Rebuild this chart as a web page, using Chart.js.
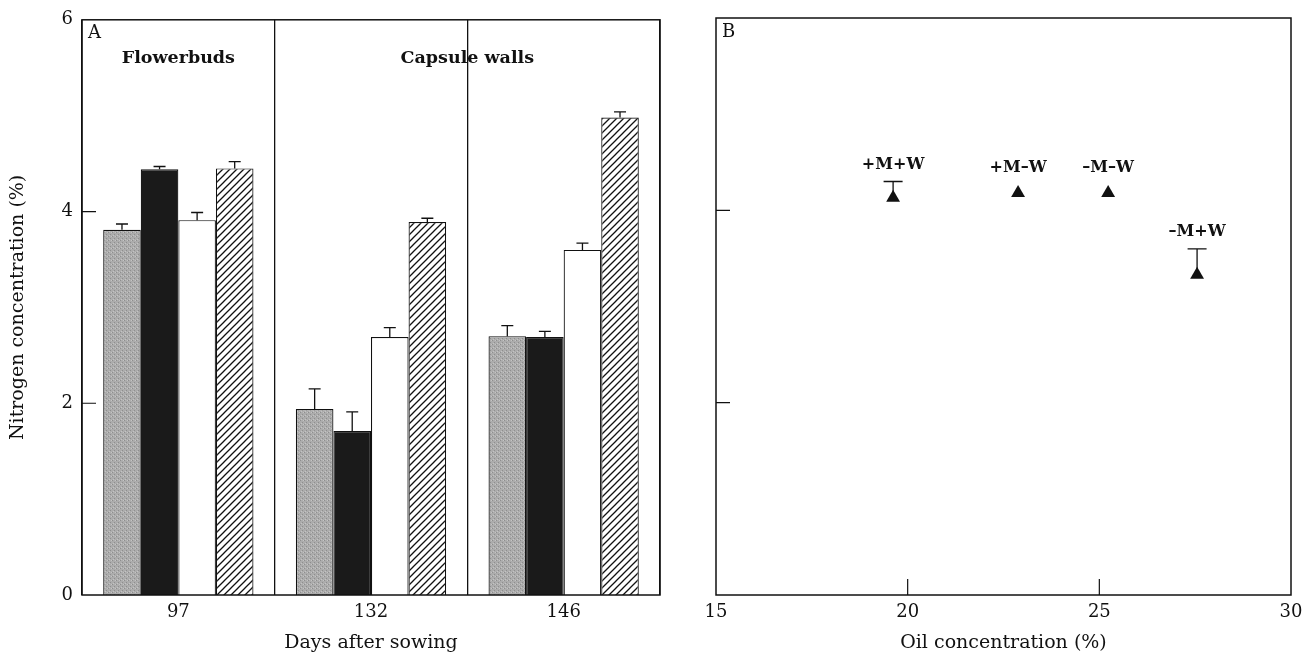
<!DOCTYPE html>
<html>
<head>
<meta charset="utf-8">
<script src="https://cdn.jsdelivr.net/npm/chart.js@4.4.1/dist/chart.umd.min.js"></script>
<style>
    html, body { margin: 0; padding: 0; background: #fff; }
    #wrapA { position: absolute; left: 0; top: 0; width: 680px; height: 655px; }
    #wrapB { position: absolute; left: 680px; top: 0; width: 624px; height: 655px; }
</style>
</head>
<body>
<div id="wrapA"><canvas id="chartA" width="680" height="655"></canvas></div>
<div id="wrapB"><canvas id="chartB" width="624" height="655"></canvas></div>
<script>
// --- panel A: nitrogen in flowerbuds / capsule walls
const days = ['97', '132', '146'];
const grayVals  = [3.81, 1.94, 2.70];
const blackVals = [4.44, 1.71, 2.69];
const whiteVals = [3.91, 2.69, 3.60];
const hatchVals = [4.45, 3.89, 4.98];
const grayErr  = [0.06, 0.21, 0.11];
const blackErr = [0.03, 0.20, 0.06];
const whiteErr = [0.08, 0.10, 0.07];
const hatchErr = [0.07, 0.04, 0.06];
const nTicks = [0, 2, 4, 6];

// --- panel B: nitrogen vs oil
const treatLabels = ['+M+W', '+M–W', '–M–W', '–M+W'];
const oilVals = [19.62, 22.88, 25.23, 27.55];
const nitroVals = [4.13, 4.18, 4.18, 3.33];
const nitroErr = [0.17, 0, 0, 0.27];
const oilTicks = [15, 20, 25, 30];

Chart.defaults.font.family = "'DejaVu Serif', 'Liberation Serif', serif";
Chart.defaults.color = '#111';

const INK = '#111';

function hatchPattern() {
    const c = document.createElement('canvas');
    c.width = 7; c.height = 7;
    const g = c.getContext('2d');
    g.fillStyle = '#fff';
    g.fillRect(0, 0, 7, 7);
    g.strokeStyle = INK;
    g.lineWidth = 1.3;
    g.beginPath();
    g.moveTo(0, 7); g.lineTo(7, 0);
    g.moveTo(-1, 1); g.lineTo(1, -1);
    g.moveTo(6, 8); g.lineTo(8, 6);
    g.stroke();
    return g.createPattern(c, 'repeat');
}

function stipplePattern() {
    const c = document.createElement('canvas');
    c.width = 4; c.height = 4;
    const g = c.getContext('2d');
    g.fillStyle = '#acacac';
    g.fillRect(0, 0, 4, 4);
    g.fillStyle = '#8e8e8e';
    g.fillRect(0, 0, 1, 1);
    g.fillRect(2, 2, 1, 1);
    g.fillStyle = '#c4c4c4';
    g.fillRect(3, 0, 1, 1);
    g.fillRect(1, 3, 1, 1);
    return g.createPattern(c, 'repeat');
}

// frame round the plot area + short inward tick marks
const frame = {
    id: 'frame',
    afterDraw(chart, args, opts) {
        const { ctx, chartArea: a, scales } = chart;
        ctx.save();
        ctx.strokeStyle = INK;
        ctx.lineWidth = 1.5;
        ctx.strokeRect(a.left, a.top, a.right - a.left, a.bottom - a.top);
        ctx.lineWidth = 1.2;
        ctx.beginPath();
        (opts.yTicks || []).forEach(v => {
            const y = scales.y.getPixelForValue(v);
            ctx.moveTo(a.left, y); ctx.lineTo(a.left + 14, y);
        });
        (opts.xTicks || []).forEach(v => {
            const x = scales.x.getPixelForValue(v);
            ctx.moveTo(x, a.bottom); ctx.lineTo(x, a.bottom - 16);
        });
        ctx.stroke();
        ctx.restore();
    }
};

// one-sided (upward) error bars
const errorBars = {
    id: 'errorBars',
    afterDatasetsDraw(chart, args, opts) {
        const { ctx, scales } = chart;
        ctx.save();
        ctx.strokeStyle = INK;
        ctx.lineWidth = 1.3;
        chart.data.datasets.forEach((ds, i) => {
            if (!ds.errors) return;
            const meta = chart.getDatasetMeta(i);
            meta.data.forEach((el, j) => {
                const err = ds.errors[j];
                if (!err) return;
                const v = typeof ds.data[j] === 'object' ? ds.data[j].y : ds.data[j];
                const yTop = scales.y.getPixelForValue(v + err);
                const half = opts.cap / 2;
                ctx.beginPath();
                ctx.moveTo(el.x, el.y);
                ctx.lineTo(el.x, yTop);
                ctx.moveTo(el.x - half, yTop);
                ctx.lineTo(el.x + half, yTop);
                ctx.stroke();
            });
        });
        ctx.restore();
    }
};

const labelsA = {
    id: 'labelsA',
    afterDraw(chart) {
        const { ctx, chartArea: a, scales } = chart;
        ctx.save();
        ctx.fillStyle = INK;
        ctx.textBaseline = 'middle';
        ctx.font = "18px 'DejaVu Serif'";
        ctx.textAlign = 'left';
        ctx.fillText('A', a.left + 6, a.top + 14);
        ctx.font = "bold 17.5px 'DejaVu Serif'";
        ctx.textAlign = 'center';
        const y = scales.y.getPixelForValue(5.6);
        ctx.fillText('Flowerbuds', scales.x.getPixelForValue(0), y);
        const xm = (scales.x.getPixelForValue(1) + scales.x.getPixelForValue(2)) / 2;
        ctx.fillText('Capsule walls', xm, y);
        ctx.restore();
    }
};

const labelsB = {
    id: 'labelsB',
    afterDraw(chart) {
        const { ctx, chartArea: a, scales } = chart;
        ctx.save();
        ctx.fillStyle = INK;
        ctx.textBaseline = 'middle';
        ctx.font = "18px 'DejaVu Serif'";
        ctx.textAlign = 'left';
        ctx.fillText('B', a.left + 6, a.top + 14);
        ctx.font = "bold 16px 'DejaVu Serif'";
        ctx.textAlign = 'center';
        const meta = chart.getDatasetMeta(0);
        meta.data.forEach((el, j) => {
            const top = Math.min(scales.y.getPixelForValue(nitroVals[j] + nitroErr[j]), el.y - 8);
            ctx.fillText(treatLabels[j], el.x, top - 17);
        });
        ctx.restore();
    }
};

const tickFont = { size: 18 };
const titleFont = { size: 19 };

new Chart(document.getElementById('chartA'), {
    type: 'bar',
    data: {
        labels: days,
        datasets: [
            { label: 'grey', data: grayVals, errors: grayErr, backgroundColor: stipplePattern() },
            { label: 'black', data: blackVals, errors: blackErr, backgroundColor: '#1a1a1a' },
            { label: 'white', data: whiteVals, errors: whiteErr, backgroundColor: '#fff' },
            { label: 'hatched', data: hatchVals, errors: hatchErr, backgroundColor: hatchPattern() }
        ].map(d => Object.assign(d, {
            borderColor: INK,
            borderWidth: 1.2,
            categoryPercentage: 0.78,
            barPercentage: 1.0
        }))
    },
    options: {
        responsive: false,
        devicePixelRatio: 1,
        animation: false,
        layout: { padding: { top: 18, right: 20, left: 0, bottom: 0 } },
        plugins: {
            legend: { display: false },
            tooltip: { enabled: false },
            frame: { yTicks: [2, 4] },
            errorBars: { cap: 12 }
        },
        scales: {
            x: {
                offset: true,
                grid: { offset: true, color: INK, lineWidth: 1.3, drawTicks: false },
                border: { display: false },
                ticks: { font: tickFont, padding: 7 },
                title: { display: true, text: 'Days after sowing', font: titleFont, padding: { top: 0, bottom: 1 } },
                afterFit(scale) { scale.height = 60; }
            },
            y: {
                min: 0,
                max: 6,
                grid: { display: false, drawTicks: false },
                border: { display: false },
                afterBuildTicks(scale) { scale.ticks = nTicks.map(v => ({ value: v })); },
                ticks: { font: tickFont, padding: 9 },
                title: { display: true, text: 'Nitrogen concentration (%)', font: titleFont, padding: { top: 7, bottom: 0 } },
                afterFit(scale) { scale.width = 82; }
            }
        }
    },
    plugins: [errorBars, frame, labelsA]
});

new Chart(document.getElementById('chartB'), {
    type: 'scatter',
    data: {
        datasets: [{
            label: 'treatments',
            data: oilVals.map((x, i) => ({ x: x, y: nitroVals[i] })),
            errors: nitroErr,
            pointStyle: 'triangle',
            pointRadius: 8,
            backgroundColor: INK,
            borderColor: INK,
            borderWidth: 0
        }]
    },
    options: {
        responsive: false,
        devicePixelRatio: 1,
        animation: false,
        layout: { padding: { top: 18, right: 13, left: 0, bottom: 0 } },
        plugins: {
            legend: { display: false },
            tooltip: { enabled: false },
            frame: { yTicks: [2, 4], xTicks: [20, 25] },
            errorBars: { cap: 19 }
        },
        scales: {
            x: {
                type: 'linear',
                min: 15,
                max: 30,
                grid: { display: false, drawTicks: false },
                border: { display: false },
                afterBuildTicks(scale) { scale.ticks = oilTicks.map(v => ({ value: v })); },
                ticks: { font: tickFont, padding: 7 },
                title: { display: true, text: 'Oil concentration (%)', font: titleFont, padding: { top: 0, bottom: 1 } },
                afterFit(scale) {
                    scale.height = 60;
                    scale.paddingLeft = 0;
                    scale.paddingRight = 0;
                }
            },
            y: {
                min: 0,
                max: 6,
                grid: { display: false, drawTicks: false },
                border: { display: false },
                ticks: { display: false },
                afterFit(scale) {
                    scale.width = 36;
                    scale.paddingTop = 0;
                    scale.paddingBottom = 0;
                }
            }
        }
    },
    plugins: [errorBars, frame, labelsB]
});
</script>
</body>
</html>
